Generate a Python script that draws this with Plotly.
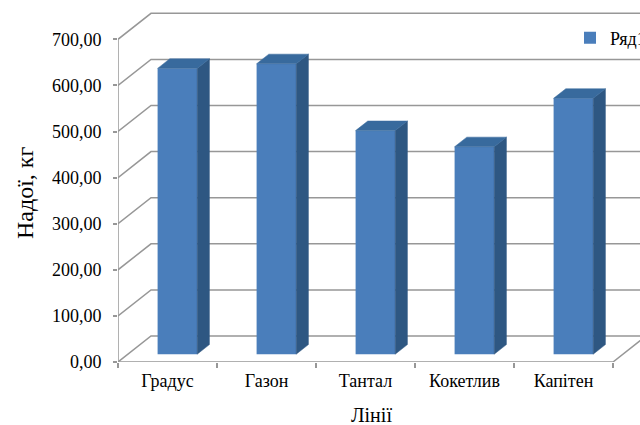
import plotly.graph_objects as go

# ---- data ----
categories = ["Градус", "Газон", "Тантал", "Кокетлив", "Капітен"]
values = [620, 630, 485, 450, 555]
y_ticks = [0, 100, 200, 300, 400, 500, 600, 700]
y_tick_labels = ["0,00", "100,00", "200,00", "300,00", "400,00", "500,00", "600,00", "700,00"]
series_name = "Ряд1"
x_title = "Лінії"
y_title = "Надої, кг"

# ---- geometry (oblique 3D projection) ----
W, H = 640, 425
M_L, M_R, M_T, M_B = 118, 0, 4, 63
PX_X = 99.0       # pixels per category
PX_Y = 0.461      # pixels per value unit
DX = 33 / PX_X    # depth shift in x units (full depth)
DY = 26 / PX_Y    # depth shift in y units (full depth)
D_FRONT, D_BACK = 0.3, 0.67
BAR_W = 0.4
n = len(categories)
X0, X1 = -0.5, n - 0.5
plot_w = W - M_L - M_R
plot_h = H - M_T - M_B

FRONT = "#4A7EBB"
SIDE = "#2E5782"
TOP = "#386A9D"
GRID = "#979797"
FONT = "Liberation Serif, Times New Roman, serif"


def proj(c, v, d):
    return c + d * DX, v + d * DY


def path(points):
    return "M " + " L ".join(f"{x},{y}" for x, y in points)


shapes = []
line_style = dict(color=GRID, width=1.5)
for v in y_ticks:
    pts = [proj(X0, v, 0), proj(X0, v, 1), proj(X1, v, 1)]
    shapes.append(dict(type="path", path=path(pts), xref="x", yref="y",
                       line=line_style, layer="below"))
# left axis line
shapes.append(dict(type="path", path=path([proj(X0, 0, 0), proj(X0, y_ticks[-1], 0)]),
                   xref="x", yref="y", line=line_style, layer="below"))
# floor front edge and right edge
shapes.append(dict(type="path", path=path([proj(X0, 0, 0), proj(X1, 0, 0), proj(X1, 0, 1)]),
                   xref="x", yref="y", line=line_style, layer="below"))

fig = go.Figure()

# front faces as real bars
fig.add_trace(go.Bar(
    x=[proj(i, 0, D_FRONT)[0] for i in range(n)],
    y=values,
    base=[DY * D_FRONT] * n,
    width=BAR_W,
    marker=dict(color=FRONT, line=dict(width=0)),
    name=series_name,
    showlegend=True,
    hoverinfo="skip",
))

# side and top faces
for i, v in enumerate(values):
    xl = i - BAR_W / 2
    xr = i + BAR_W / 2
    side = [proj(xr, 0, D_FRONT), proj(xr, 0, D_BACK), proj(xr, v, D_BACK), proj(xr, v, D_FRONT)]
    top = [proj(xl, v, D_FRONT), proj(xr, v, D_FRONT), proj(xr, v, D_BACK), proj(xl, v, D_BACK)]
    for poly, col in ((side, SIDE), (top, TOP)):
        xs = [p[0] for p in poly] + [poly[0][0]]
        ys = [p[1] for p in poly] + [poly[0][1]]
        fig.add_trace(go.Scatter(x=xs, y=ys, mode="lines", fill="toself",
                                 fillcolor=col, line=dict(color=col, width=0.5),
                                 showlegend=False, hoverinfo="skip"))

fig.update_layout(
    width=W, height=H,
    margin=dict(l=M_L, r=M_R, t=M_T, b=M_B, autoexpand=False),
    paper_bgcolor="white", plot_bgcolor="white",
    font=dict(family=FONT, color="black", size=18),
    shapes=shapes,
    showlegend=True,
    legend=dict(x=(570 - M_L) / plot_w, y=0.905, xanchor="left", yanchor="middle",
                bgcolor="rgba(0,0,0,0)", font=dict(size=18, family=FONT)),
    xaxis=dict(range=[X0, X0 + plot_w / PX_X], tickmode="array",
               tickvals=list(range(n)), ticktext=categories, ticks="",
               showgrid=False, zeroline=False, showline=False,
               tickfont=dict(size=18, family=FONT, color="black"), ticklabelstandoff=6,
               minor=dict(tickmode="linear", tick0=-0.5, dtick=1, ticks="outside",
                          ticklen=5, tickcolor=GRID, tickwidth=1.5, showgrid=False)),
    yaxis=dict(range=[0, plot_h / PX_Y], tickmode="array", tickvals=y_ticks,
               ticktext=y_tick_labels, ticks="outside", ticklen=4, tickcolor=GRID,
               tickwidth=1.5, showgrid=False, zeroline=False, showline=False,
               tickfont=dict(size=18, family=FONT, color="black"), ticklabelstandoff=8),
    annotations=[
        dict(text=y_title, xref="paper", yref="paper", x=(25 - M_L) / plot_w,
             y=(H - M_B - 193) / plot_h, textangle=-90, showarrow=False,
             xanchor="center", yanchor="middle", font=dict(size=24, family=FONT)),
        dict(text=x_title, xref="paper", yref="paper", x=(371 - M_L) / plot_w,
             y=(H - M_B - 415) / plot_h, showarrow=False,
             xanchor="center", yanchor="middle", font=dict(size=20, family=FONT)),
    ],
)

fig.write_html("out.html")
